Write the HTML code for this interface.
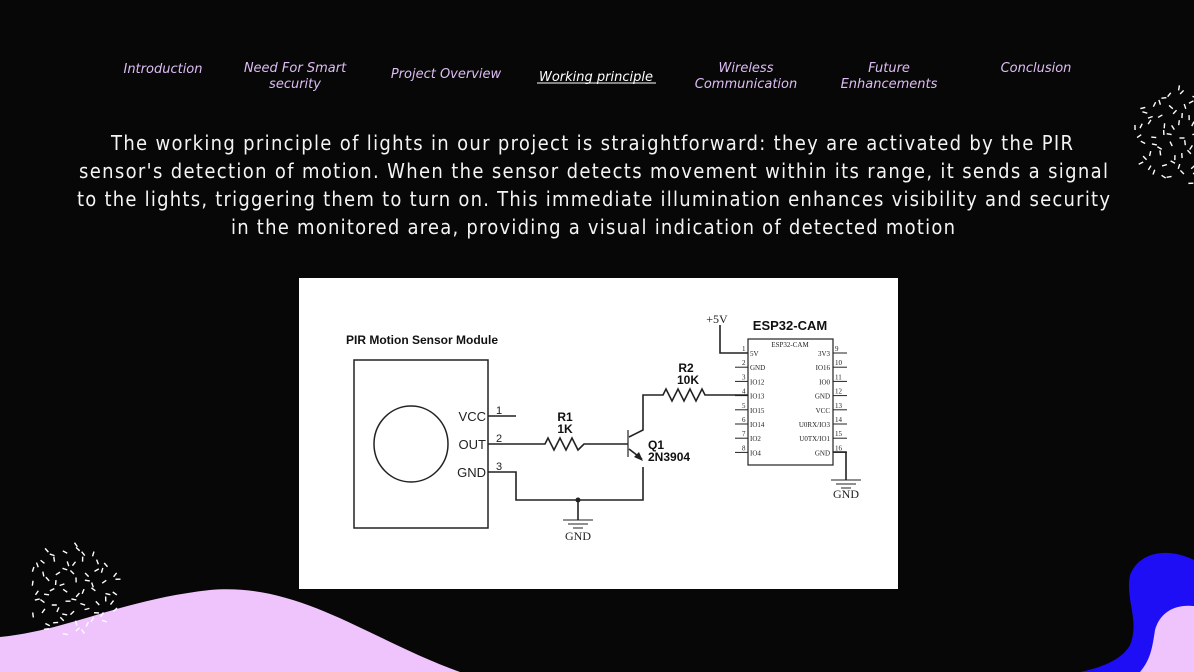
<!DOCTYPE html>
<html><head><meta charset="utf-8"><style>
html,body{margin:0;padding:0;background:#070707;width:1194px;height:672px;overflow:hidden}
svg{display:block}
.nav{font-family:"Comic Sans MS","DejaVu Sans",cursive;font-style:italic;font-size:13px;fill:#dcbdf3;text-anchor:middle}
.p{font-family:"DejaVu Sans Condensed","Liberation Sans",sans-serif;font-size:20px;fill:#f4f4f4}
.a{font-family:"Liberation Sans",Arial,sans-serif;font-weight:bold;fill:#111}
.s{font-family:"Liberation Serif",serif;font-size:7px;fill:#222}
.w{stroke:#222;fill:none}
</style></head><body>
<svg id="svg" width="1194" height="672" viewBox="0 0 1194 672" xmlns="http://www.w3.org/2000/svg">
<rect width="1194" height="672" fill="#070707"/>
<text class="nav" x="163" y="73">Introduction</text>
<text class="nav" x="295" y="72">Need For Smart</text>
<text class="nav" x="295" y="88">security</text>
<text class="nav" x="446" y="78">Project Overview</text>
<text class="nav" x="596" y="81" style="fill:#fff">Working principle</text>
<line x1="537" y1="83" x2="656" y2="83" stroke="#fff" stroke-width="1"/>
<text class="nav" x="746" y="72">Wireless</text>
<text class="nav" x="746" y="88">Communication</text>
<text class="nav" x="889" y="72">Future</text>
<text class="nav" x="889" y="88">Enhancements</text>
<text class="nav" x="1036" y="72">Conclusion</text>
<text class="p" x="111" y="150" textLength="962" lengthAdjust="spacing">The working principle of lights in our project is straightforward: they are activated by the PIR</text>
<text class="p" x="79" y="178" textLength="1029" lengthAdjust="spacing">sensor's detection of motion. When the sensor detects movement within its range, it sends a signal</text>
<text class="p" x="77" y="206" textLength="1033" lengthAdjust="spacing">to the lights, triggering them to turn on. This immediate illumination enhances visibility and security</text>
<text class="p" x="231" y="234" textLength="724" lengthAdjust="spacing">in the monitored area, providing a visual indication of detected motion</text>
<rect x="299" y="278" width="599" height="311" fill="#fff"/>
<text class="a" x="346" y="344" font-size="12">PIR Motion Sensor Module</text>
<rect x="354" y="360" width="134" height="168" class="w" stroke-width="1.5"/>
<ellipse cx="411" cy="444" rx="37" ry="38" class="w" stroke-width="1.5"/>
<g font-family="Liberation Sans,sans-serif" font-size="13" fill="#222" text-anchor="end">
<text x="486" y="421">VCC</text><text x="486" y="449">OUT</text><text x="486" y="477">GND</text></g>
<g font-family="Liberation Sans,sans-serif" font-size="11" fill="#222">
<text x="496" y="414">1</text><text x="496" y="442">2</text><text x="496" y="470">3</text></g>
<g class="w" stroke-width="1.6">
<line x1="488" y1="416" x2="516" y2="416"/>
<polyline points="488,444 545,444 548,438 554,450 560,438 566,450 572,438 578,450 584,444 628,444"/>
<polyline points="488,472 516,472 516,500 643,500 643,467"/>
<line x1="578" y1="500" x2="578" y2="520"/>
<line x1="628" y1="430" x2="628" y2="457" stroke-width="1.2"/>
<polyline points="629,437 643,430 643,395 663,395 666,389 672,401 678,389 684,401 690,389 696,401 702,389 705,395 748,395"/>
<line x1="629" y1="449" x2="642" y2="459"/>
<polyline points="720,325 720,353 748,353"/>
<polyline points="833,452 846,452 846,480"/>
</g>
<circle cx="578" cy="500" r="2.5" fill="#222"/>
<polygon points="643,461 634,457 639,452" fill="#222"/>
<g stroke="#222" stroke-width="1">
<line x1="563" y1="520" x2="593" y2="520"/><line x1="568" y1="524" x2="588" y2="524"/><line x1="573" y1="528" x2="583" y2="528"/>
<line x1="831" y1="480" x2="861" y2="480"/><line x1="836" y1="484" x2="856" y2="484"/><line x1="841" y1="488" x2="851" y2="488"/>
</g>
<g font-family="Liberation Serif,serif" font-size="12" fill="#222" text-anchor="middle">
<text x="578" y="540">GND</text><text x="846" y="498">GND</text><text x="717" y="323">+5V</text></g>
<g class="a" font-size="12" text-anchor="middle">
<text x="565" y="421">R1</text><text x="565" y="433">1K</text>
<text x="686" y="372">R2</text><text x="688" y="384">10K</text>
<text x="790" y="330" font-size="13">ESP32-CAM</text></g>
<g class="a" font-size="12"><text x="648" y="449">Q1</text><text x="648" y="461">2N3904</text></g>
<rect x="748" y="339" width="85" height="126" class="w" stroke-width="1.2"/>
<text class="s" x="790" y="347" text-anchor="middle">ESP32-CAM</text>
<g id="pins"></g>
<path d="M0,637 C70,630 120,600 210,590 C300,582 370,640 460,672 L0,672 Z" fill="#efc3fb"/>
<path d="M1194,560 C1170,548 1140,550 1130,575 C1125,600 1140,620 1130,645 C1122,660 1100,668 1080,672 L1194,672 Z" fill="#1d0ef5"/>
<path d="M1194,606 C1175,604 1160,612 1155,630 C1152,650 1150,660 1140,672 L1194,672 Z" fill="#efc3fb"/>
<g id="dash" stroke="#fff" stroke-width="1.4"></g>
</svg>
<script>
var ns="http://www.w3.org/2000/svg",pins=document.getElementById('pins');
function el(t,a,txt){var e=document.createElementNS(ns,t);for(var k in a)e.setAttribute(k,a[k]);if(txt)e.textContent=txt;return e;}
var L=['5V','GND','IO12','IO13','IO15','IO14','IO2','IO4'],R=['3V3','IO16','IO0','GND','VCC','U0RX/IO3','U0TX/IO1','GND'];
for(var i=0;i<8;i++){var y=353+i*14.2;
pins.appendChild(el('line',{x1:735,y1:y,x2:748,y2:y,stroke:'#222','stroke-width':1}));
pins.appendChild(el('line',{x1:833,y1:y,x2:847,y2:y,stroke:'#222','stroke-width':1}));
pins.appendChild(el('text',{x:742,y:y-2,'class':'s','font-size':6},String(i+1)));
pins.appendChild(el('text',{x:835,y:y-2,'class':'s','font-size':6},String(i+9)));
pins.appendChild(el('text',{x:750,y:y+3,'class':'s'},L[i]));
pins.appendChild(el('text',{x:830,y:y+3,'class':'s','text-anchor':'end'},R[i]));}
var d=document.getElementById('dash');
function cl(cx,cy,rad,step){for(var gx=-rad;gx<=rad;gx+=step)for(var gy=-rad;gy<=rad;gy+=step){
var x=cx+gx+(Math.sin(gx*7.1+gy*3.3)*step*0.3),y=cy+gy+(Math.cos(gx*2.7-gy*5.9)*step*0.3);
if((x-cx)*(x-cx)+(y-cy)*(y-cy)>rad*rad)continue;
var t=(Math.sin(gx*12.9898+gy*78.233)*43758.5453)%1*6.283,l=2.5;
d.appendChild(el('line',{x1:x-Math.cos(t)*l,y1:y-Math.sin(t)*l,x2:x+Math.cos(t)*l,y2:y+Math.sin(t)*l}));}}
cl(73,590,48,10);cl(1182,135,50,10);
</script>
</body></html>
